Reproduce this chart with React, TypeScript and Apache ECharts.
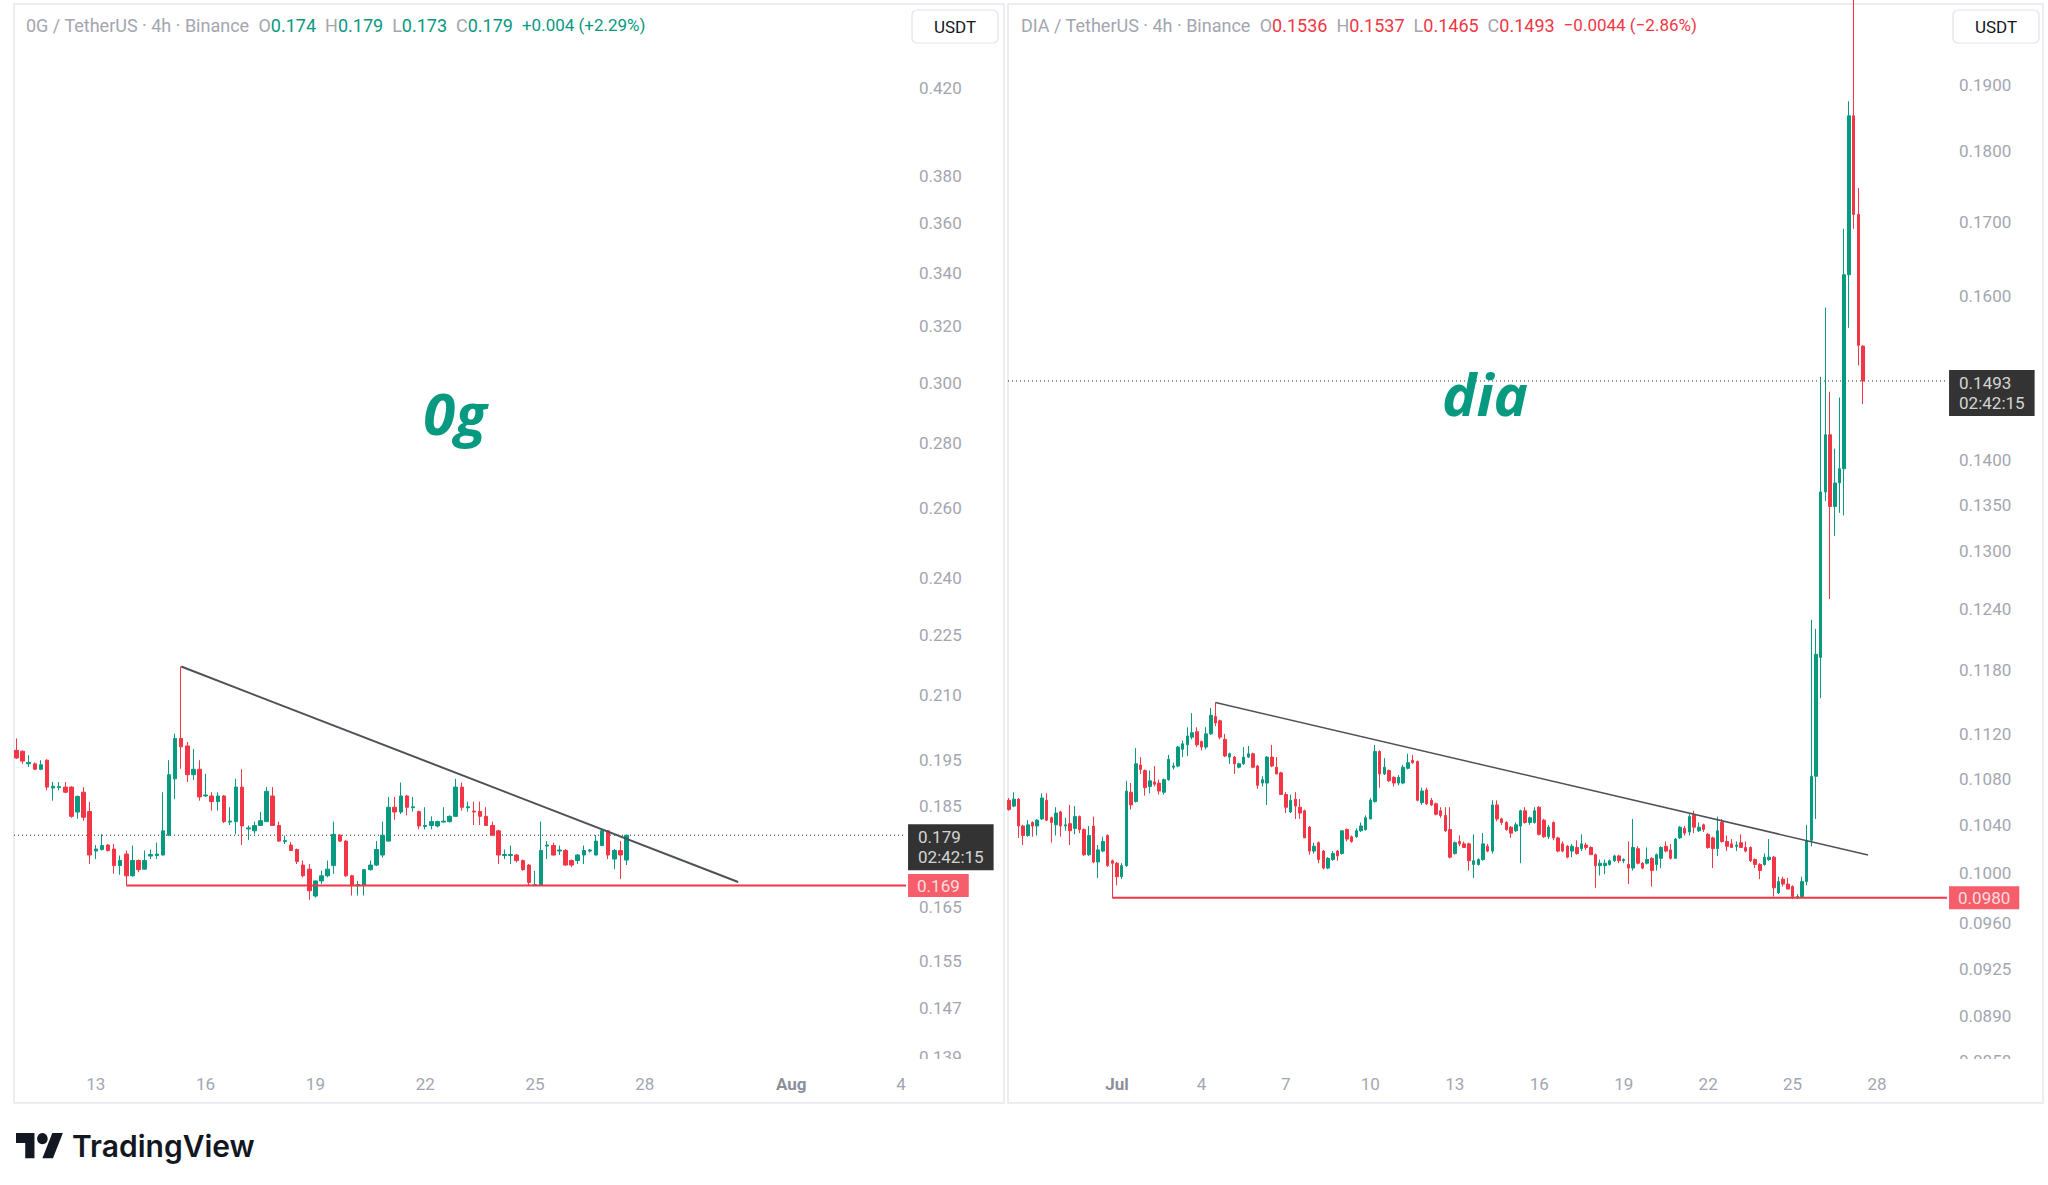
import React, { useEffect, useRef } from "react";
import * as echarts from "echarts";

const GREEN = "#089981";
const RED = "#f23645";
const AXIS_TEXT = "#a3a6af";
const HEAD_TEXT = "#a3a6af";
const FONT = "Roboto, 'Noto Sans', sans-serif";

// ---------------- 0G / TetherUS 4h (left) ----------------
const leftFirstDay = 10 + 20 / 24; // July day number of first 4h candle
// [open, close, low, high]
const leftCandles = [
  [0.1972, 0.1955, 0.1953, 0.1999], [0.1970, 0.1948, 0.1942, 0.1972], [0.1942, 0.1945, 0.1935, 0.1961],
  [0.1942, 0.1930, 0.1928, 0.1945], [0.1930, 0.1940, 0.1928, 0.1950], [0.1950, 0.1891, 0.1884, 0.1952],
  [0.1889, 0.1893, 0.1862, 0.1902], [0.1890, 0.1892, 0.1884, 0.1902], [0.1891, 0.1880, 0.1878, 0.1902],
  [0.1891, 0.1829, 0.1826, 0.1893], [0.1838, 0.1871, 0.1824, 0.1873], [0.1880, 0.1827, 0.1820, 0.1891],
  [0.1839, 0.1750, 0.1732, 0.1859], [0.1758, 0.1762, 0.1742, 0.1770], [0.1761, 0.1769, 0.1759, 0.1792],
  [0.1770, 0.1759, 0.1757, 0.1772], [0.1762, 0.1729, 0.1713, 0.1772], [0.1729, 0.1739, 0.1711, 0.1749],
  [0.1752, 0.1709, 0.1690, 0.1759], [0.1709, 0.1739, 0.1707, 0.1769], [0.1739, 0.1721, 0.1716, 0.1741],
  [0.1722, 0.1739, 0.1721, 0.1759], [0.1748, 0.1751, 0.1742, 0.1761], [0.1749, 0.1752, 0.1742, 0.1775],
  [0.1750, 0.1799, 0.1749, 0.1880], [0.1790, 0.1918, 0.1788, 0.1950], [0.1909, 0.1999, 0.1865, 0.2010],
  [0.1999, 0.1980, 0.1931, 0.2170], [0.1982, 0.1918, 0.1902, 0.1991], [0.1918, 0.1930, 0.1906, 0.1975],
  [0.1930, 0.1870, 0.1862, 0.1950], [0.1872, 0.1874, 0.1870, 0.1920], [0.1872, 0.1860, 0.1841, 0.1880],
  [0.1860, 0.1872, 0.1841, 0.1880], [0.1872, 0.1818, 0.1815, 0.1874], [0.1817, 0.1819, 0.1811, 0.1848],
  [0.1818, 0.1891, 0.1792, 0.1909], [0.1891, 0.1809, 0.1770, 0.1930], [0.1803, 0.1805, 0.1780, 0.1810],
  [0.1799, 0.1810, 0.1792, 0.1818], [0.1810, 0.1820, 0.1809, 0.1838], [0.1818, 0.1882, 0.1817, 0.1891],
  [0.1872, 0.1810, 0.1809, 0.1891], [0.1810, 0.1778, 0.1777, 0.1818], [0.1777, 0.1779, 0.1772, 0.1789],
  [0.1770, 0.1759, 0.1758, 0.1776], [0.1761, 0.1737, 0.1732, 0.1763], [0.1730, 0.1709, 0.1706, 0.1739],
  [0.1722, 0.1680, 0.1663, 0.1732], [0.1670, 0.1699, 0.1667, 0.1700], [0.1699, 0.1709, 0.1693, 0.1719],
  [0.1709, 0.1722, 0.1706, 0.1739], [0.1729, 0.1792, 0.1713, 0.1818], [0.1790, 0.1778, 0.1776, 0.1792],
  [0.1778, 0.1709, 0.1707, 0.1780], [0.1709, 0.1690, 0.1671, 0.1711], [0.1690, 0.1692, 0.1671, 0.1699],
  [0.1691, 0.1721, 0.1671, 0.1722], [0.1721, 0.1730, 0.1719, 0.1739], [0.1730, 0.1761, 0.1728, 0.1778],
  [0.1750, 0.1790, 0.1745, 0.1818], [0.1778, 0.1848, 0.1777, 0.1870], [0.1848, 0.1838, 0.1822, 0.1870],
  [0.1838, 0.1872, 0.1834, 0.1901], [0.1872, 0.1848, 0.1831, 0.1874], [0.1847, 0.1849, 0.1839, 0.1870],
  [0.1839, 0.1809, 0.1802, 0.1841], [0.1808, 0.1810, 0.1802, 0.1848], [0.1810, 0.1818, 0.1802, 0.1829],
  [0.1809, 0.1818, 0.1806, 0.1820], [0.1817, 0.1819, 0.1816, 0.1848], [0.1818, 0.1829, 0.1816, 0.1831],
  [0.1829, 0.1891, 0.1828, 0.1909], [0.1891, 0.1848, 0.1841, 0.1901], [0.1847, 0.1849, 0.1839, 0.1860],
  [0.1840, 0.1838, 0.1811, 0.1860], [0.1839, 0.1829, 0.1811, 0.1860], [0.1829, 0.1810, 0.1809, 0.1848],
  [0.1810, 0.1790, 0.1789, 0.1818], [0.1799, 0.1750, 0.1732, 0.1801], [0.1749, 0.1751, 0.1742, 0.1761],
  [0.1749, 0.1751, 0.1732, 0.1769], [0.1750, 0.1739, 0.1735, 0.1752], [0.1739, 0.1721, 0.1719, 0.1741],
  [0.1730, 0.1696, 0.1690, 0.1732], [0.1690, 0.1692, 0.1689, 0.1719], [0.1691, 0.1759, 0.1690, 0.1818],
  [0.1768, 0.1770, 0.1742, 0.1778], [0.1769, 0.1750, 0.1749, 0.1775], [0.1758, 0.1760, 0.1750, 0.1769],
  [0.1759, 0.1730, 0.1729, 0.1762], [0.1739, 0.1730, 0.1726, 0.1741], [0.1739, 0.1750, 0.1732, 0.1752],
  [0.1750, 0.1759, 0.1732, 0.1769], [0.1758, 0.1760, 0.1755, 0.1762], [0.1750, 0.1778, 0.1749, 0.1790],
  [0.1769, 0.1799, 0.1768, 0.1802], [0.1799, 0.1750, 0.1742, 0.1800], [0.1742, 0.1759, 0.1722, 0.1762],
  [0.1759, 0.1750, 0.1703, 0.1778], [0.1740, 0.1790, 0.1730, 0.1790],
];
const leftPriceTicks = [0.42, 0.38, 0.36, 0.34, 0.32, 0.3, 0.28, 0.26, 0.24, 0.225, 0.21, 0.195, 0.185, 0.165, 0.155, 0.147, 0.139];
const leftDayTicks = [13, 16, 19, 22, 25, 28, 32, 35];
const leftDayLabels = ["13", "16", "19", "22", "25", "28", "Aug", "4"];
const leftDayRange = [10.765, 35.137];
const leftPriceRange = [0.13818, 0.4617];
const leftTrendDays = [15.333, 30.55];
const leftTrendPrices = [0.217, 0.1697];
const leftSupportDay = 13.833;
const leftSupport = 0.169;
const leftLast = 0.179;
const countdown = "02:42:15";

// ---------------- DIA / TetherUS 4h (right) ----------------
const rightFirstDay = -3 + 4 / 24;
const rightCandles = [
  [0.1061, 0.1053, 0.1052, 0.1063], [0.1056, 0.1062, 0.1055, 0.1068], [0.1062, 0.1039, 0.1029, 0.1063],
  [0.1039, 0.1031, 0.1023, 0.1040], [0.1031, 0.1040, 0.1030, 0.1044], [0.1042, 0.1039, 0.1030, 0.1043],
  [0.1039, 0.1044, 0.1031, 0.1045], [0.1045, 0.1063, 0.1044, 0.1067], [0.1061, 0.1044, 0.1043, 0.1067],
  [0.1046, 0.1042, 0.1025, 0.1047], [0.1040, 0.1050, 0.1031, 0.1055], [0.1051, 0.1039, 0.1030, 0.1052],
  [0.1039, 0.1040, 0.1035, 0.1046], [0.1041, 0.1035, 0.1023, 0.1057], [0.1037, 0.1047, 0.1032, 0.1056],
  [0.1047, 0.1036, 0.1033, 0.1048], [0.1036, 0.1015, 0.1014, 0.1037], [0.1015, 0.1031, 0.1014, 0.1039],
  [0.1039, 0.1009, 0.1008, 0.1047], [0.1009, 0.1019, 0.0996, 0.1023], [0.1018, 0.1026, 0.1017, 0.1030],
  [0.1031, 0.1006, 0.1005, 0.1032], [0.1010, 0.1008, 0.0980, 0.1011], [0.1008, 0.0997, 0.0990, 0.1009],
  [0.0997, 0.1006, 0.0995, 0.1008], [0.1006, 0.1069, 0.1005, 0.1078], [0.1068, 0.1057, 0.1053, 0.1076],
  [0.1060, 0.1093, 0.1059, 0.1107], [0.1092, 0.1088, 0.1084, 0.1099], [0.1087, 0.1072, 0.1065, 0.1088],
  [0.1073, 0.1078, 0.1067, 0.1087], [0.1077, 0.1075, 0.1073, 0.1091], [0.1076, 0.1069, 0.1066, 0.1079],
  [0.1068, 0.1079, 0.1066, 0.1080], [0.1079, 0.1097, 0.1078, 0.1101], [0.1090, 0.1091, 0.1088, 0.1094],
  [0.1091, 0.1108, 0.1090, 0.1109], [0.1106, 0.1111, 0.1099, 0.1114], [0.1110, 0.1118, 0.1100, 0.1126],
  [0.1117, 0.1121, 0.1115, 0.1139], [0.1122, 0.1110, 0.1108, 0.1126], [0.1113, 0.1108, 0.1105, 0.1114],
  [0.1108, 0.1120, 0.1106, 0.1126], [0.1120, 0.1137, 0.1119, 0.1144], [0.1136, 0.1130, 0.1127, 0.1149],
  [0.1132, 0.1117, 0.1115, 0.1133], [0.1115, 0.1100, 0.1099, 0.1120], [0.1099, 0.1102, 0.1093, 0.1103],
  [0.1099, 0.1093, 0.1084, 0.1100], [0.1090, 0.1093, 0.1089, 0.1094], [0.1093, 0.1099, 0.1092, 0.1108],
  [0.1099, 0.1102, 0.1098, 0.1109], [0.1102, 0.1090, 0.1089, 0.1103], [0.1091, 0.1074, 0.1071, 0.1092],
  [0.1076, 0.1079, 0.1073, 0.1082], [0.1076, 0.1099, 0.1057, 0.1100], [0.1099, 0.1091, 0.1090, 0.1110],
  [0.1090, 0.1084, 0.1084, 0.1099], [0.1085, 0.1066, 0.1066, 0.1086], [0.1066, 0.1055, 0.1050, 0.1068],
  [0.1051, 0.1061, 0.1050, 0.1066], [0.1062, 0.1056, 0.1045, 0.1068], [0.1055, 0.1050, 0.1045, 0.1062],
  [0.1052, 0.1029, 0.1029, 0.1053], [0.1038, 0.1018, 0.1015, 0.1039], [0.1018, 0.1022, 0.1016, 0.1025],
  [0.1025, 0.1011, 0.1008, 0.1026], [0.1018, 0.1004, 0.1003, 0.1019], [0.1004, 0.1012, 0.1003, 0.1013],
  [0.1011, 0.1016, 0.1010, 0.1018], [0.1018, 0.1014, 0.1010, 0.1019], [0.1016, 0.1035, 0.1015, 0.1035],
  [0.1036, 0.1028, 0.1026, 0.1037], [0.1030, 0.1026, 0.1025, 0.1031], [0.1030, 0.1035, 0.1029, 0.1037],
  [0.1035, 0.1039, 0.1034, 0.1042], [0.1036, 0.1046, 0.1035, 0.1048], [0.1045, 0.1061, 0.1045, 0.1063],
  [0.1060, 0.1104, 0.1059, 0.1110], [0.1104, 0.1084, 0.1072, 0.1105], [0.1084, 0.1090, 0.1083, 0.1098],
  [0.1087, 0.1078, 0.1077, 0.1088], [0.1081, 0.1076, 0.1073, 0.1082], [0.1076, 0.1081, 0.1074, 0.1083],
  [0.1076, 0.1090, 0.1075, 0.1092], [0.1089, 0.1094, 0.1088, 0.1102], [0.1096, 0.1094, 0.1093, 0.1101],
  [0.1095, 0.1061, 0.1060, 0.1096], [0.1059, 0.1069, 0.1057, 0.1072], [0.1070, 0.1058, 0.1057, 0.1072],
  [0.1061, 0.1057, 0.1056, 0.1063], [0.1058, 0.1049, 0.1048, 0.1059], [0.1052, 0.1048, 0.1046, 0.1055],
  [0.1048, 0.1035, 0.1034, 0.1055], [0.1036, 0.1013, 0.1012, 0.1055], [0.1016, 0.1025, 0.1015, 0.1026],
  [0.1026, 0.1024, 0.1022, 0.1031], [0.1024, 0.1021, 0.1021, 0.1026], [0.1024, 0.1010, 0.1002, 0.1025],
  [0.1007, 0.1010, 0.0996, 0.1032], [0.1007, 0.1011, 0.1006, 0.1012], [0.1011, 0.1024, 0.1010, 0.1033],
  [0.1022, 0.1018, 0.1017, 0.1024], [0.1018, 0.1057, 0.1016, 0.1061], [0.1057, 0.1045, 0.1043, 0.1061],
  [0.1045, 0.1042, 0.1040, 0.1046], [0.1042, 0.1036, 0.1035, 0.1043], [0.1038, 0.1033, 0.1029, 0.1039],
  [0.1035, 0.1040, 0.1034, 0.1042], [0.1039, 0.1052, 0.1008, 0.1053], [0.1052, 0.1042, 0.1041, 0.1055],
  [0.1042, 0.1046, 0.1040, 0.1047], [0.1042, 0.1052, 0.1041, 0.1055], [0.1055, 0.1032, 0.1031, 0.1056],
  [0.1044, 0.1030, 0.1029, 0.1045], [0.1030, 0.1038, 0.1028, 0.1040], [0.1042, 0.1029, 0.1027, 0.1043],
  [0.1029, 0.1018, 0.1017, 0.1030], [0.1024, 0.1018, 0.1017, 0.1026], [0.1022, 0.1013, 0.1012, 0.1023],
  [0.1018, 0.1022, 0.1013, 0.1024], [0.1021, 0.1016, 0.1015, 0.1027], [0.1020, 0.1024, 0.1018, 0.1032],
  [0.1023, 0.1021, 0.1019, 0.1025], [0.1021, 0.1015, 0.1015, 0.1022], [0.1015, 0.1006, 0.0988, 0.1016],
  [0.1006, 0.1008, 0.0998, 0.1011], [0.1006, 0.1008, 0.0999, 0.1011], [0.1007, 0.1010, 0.1006, 0.1011],
  [0.1010, 0.1014, 0.1009, 0.1015], [0.1014, 0.1010, 0.1008, 0.1015], [0.1010, 0.1011, 0.1008, 0.1012],
  [0.1007, 0.1004, 0.0991, 0.1026], [0.1004, 0.1021, 0.1002, 0.1045], [0.1020, 0.1008, 0.1007, 0.1022],
  [0.1008, 0.1004, 0.1003, 0.1009], [0.1008, 0.1011, 0.1007, 0.1021], [0.1012, 0.1002, 0.0989, 0.1013],
  [0.1007, 0.1015, 0.1002, 0.1016], [0.1012, 0.1021, 0.1004, 0.1022], [0.1022, 0.1018, 0.1017, 0.1026],
  [0.1019, 0.1012, 0.1011, 0.1024], [0.1012, 0.1028, 0.1012, 0.1029], [0.1029, 0.1038, 0.1028, 0.1039],
  [0.1037, 0.1033, 0.1031, 0.1039], [0.1034, 0.1047, 0.1031, 0.1049], [0.1048, 0.1038, 0.1033, 0.1052],
  [0.1035, 0.1038, 0.1034, 0.1042], [0.1040, 0.1036, 0.1034, 0.1041], [0.1032, 0.1021, 0.1020, 0.1033],
  [0.1029, 0.1020, 0.1004, 0.1030], [0.1020, 0.1035, 0.1014, 0.1047], [0.1042, 0.1026, 0.1025, 0.1045],
  [0.1026, 0.1022, 0.1018, 0.1031], [0.1024, 0.1021, 0.1021, 0.1028], [0.1022, 0.1023, 0.1018, 0.1026],
  [0.1025, 0.1021, 0.1021, 0.1032], [0.1021, 0.1018, 0.1017, 0.1026], [0.1021, 0.1010, 0.1009, 0.1022],
  [0.1011, 0.1007, 0.1004, 0.1012], [0.1007, 0.1002, 0.0995, 0.1008], [0.1007, 0.1013, 0.1006, 0.1016],
  [0.1011, 0.1013, 0.1010, 0.1028], [0.1013, 0.0988, 0.0981, 0.1014], [0.0984, 0.0993, 0.0983, 0.0997],
  [0.0995, 0.0991, 0.0989, 0.0997], [0.0991, 0.0987, 0.0987, 0.0996], [0.0989, 0.0981, 0.0979, 0.0990],
  [0.0980, 0.0981, 0.0979, 0.0983], [0.0981, 0.0993, 0.0980, 0.0997], [0.0993, 0.1027, 0.0990, 0.1040],
  [0.1027, 0.1082, 0.1022, 0.1229], [0.1082, 0.1195, 0.1045, 0.1220], [0.1192, 0.1364, 0.1153, 0.1498],
  [0.1364, 0.1429, 0.1354, 0.1585], [0.1429, 0.1348, 0.1250, 0.1480], [0.1348, 0.1374, 0.1316, 0.1413],
  [0.1374, 0.1390, 0.1341, 0.1473], [0.1390, 0.1628, 0.1338, 0.1690], [0.1628, 0.1853, 0.1559, 0.1875],
  [0.1853, 0.1710, 0.1690, 0.2100], [0.1710, 0.1537, 0.1512, 0.1747], [0.1536, 0.1493, 0.1465, 0.1537],
];
const rightPriceTicks = [0.19, 0.18, 0.17, 0.16, 0.14, 0.135, 0.13, 0.124, 0.118, 0.112, 0.108, 0.104, 0.1, 0.096, 0.0925, 0.089, 0.0858];
const rightDayTicks = [1, 4, 7, 10, 13, 16, 19, 22, 25, 28];
const rightDayLabels = ["Jul", "4", "7", "10", "13", "16", "19", "22", "25", "28"];
const rightDayRange = [-2.872, 30.485];
const rightPriceRange = [0.08573, 0.2028];
const rightTrendDays = [4.5, 27.68];
const rightTrendPrices = [0.1149, 0.10148];
const rightSupportDay = 0.833;
const rightSupport = 0.098;
const rightLast = 0.1493;

const CANDLES_PER_DAY = 6;

function dayLabel(ticks: number[], labels: string[]) {
  return (v: number) => {
    let best = -1;
    ticks.forEach((t, i) => {
      if (Math.abs(t - v) < 1e-6) best = i;
    });
    if (best < 0) return "";
    const t = labels[best];
    return /^\d+$/.test(t) ? t : `{m|${t}}`;
  };
}

function buildPanel(idx: number, cfg: any) {
  const candleData = cfg.candles.map((c: number[], i: number) => [
    cfg.firstDay + i / CANDLES_PER_DAY, c[0], c[1], c[2], c[3],
  ]);
  const xAxis = {
    type: "value",
    gridIndex: idx,
    min: cfg.dayRange[0],
    max: cfg.dayRange[1],
    axisLine: { show: false },
    axisTick: { show: false },
    splitLine: { show: false },
    axisLabel: {
      customValues: cfg.dayTicks,
      formatter: dayLabel(cfg.dayTicks, cfg.dayLabels),
      color: AXIS_TEXT,
      fontSize: 17,
      fontFamily: FONT,
      margin: 13,
      rich: { m: { fontWeight: "bold", color: "#8c8f98", fontSize: 17, fontFamily: FONT } },
    },
  };
  const yAxis = {
    type: "log",
    logBase: 10,
    gridIndex: idx,
    position: "right",
    min: cfg.priceRange[0],
    max: cfg.priceRange[1],
    axisLine: { show: false },
    axisTick: { show: false },
    splitLine: { show: false },
    axisLabel: {
      customValues: cfg.priceTicks,
      formatter: (v: number) => v.toFixed(cfg.decimals),
      color: AXIS_TEXT,
      fontSize: 17,
      fontFamily: FONT,
      margin: cfg.labelMargin,
    },
  };
  const series = [
    {
      type: "line",
      xAxisIndex: idx,
      yAxisIndex: idx,
      data: [[cfg.dayRange[0], cfg.last], [cfg.dayRange[1], cfg.last]],
      symbol: "none",
      silent: true,
      lineStyle: { color: "#2a2e39", width: 1, type: [1, 3] },
      z: 1,
    },
    {
      type: "candlestick",
      xAxisIndex: idx,
      yAxisIndex: idx,
      data: candleData,
      barWidth: cfg.barWidth,
      clip: true,
      itemStyle: { color: GREEN, color0: RED, borderColor: GREEN, borderColor0: RED, borderWidth: 1 },
      z: 2,
    },
    {
      type: "line",
      xAxisIndex: idx,
      yAxisIndex: idx,
      data: [[cfg.supportDay, cfg.support], [cfg.dayRange[1], cfg.support]],
      symbol: "none",
      silent: true,
      lineStyle: { color: RED, width: 2 },
      z: 3,
    },
    {
      type: "line",
      xAxisIndex: idx,
      yAxisIndex: idx,
      data: cfg.trendDays.map((d: number, i: number) => [d, cfg.trendPrices[i]]),
      symbol: "none",
      silent: true,
      lineStyle: { color: "#4f5159", width: cfg.trendWidth },
      z: 4,
    },
    {
      type: "scatter",
      xAxisIndex: idx,
      yAxisIndex: idx,
      data: [[cfg.dayRange[1], cfg.support]],
      symbolSize: 0.1,
      itemStyle: { color: "transparent" },
      clip: false,
      silent: true,
      z: 10,
      label: {
        show: true,
        position: "right",
        distance: 2,
        formatter: cfg.support.toFixed(cfg.decimals),
        backgroundColor: RED,
        color: "#ffffff",
        padding: [3, 9, 2, 9],
        fontSize: 17,
        lineHeight: 18,
        fontFamily: FONT,
      },
    },
    {
      type: "scatter",
      xAxisIndex: idx,
      yAxisIndex: idx,
      data: [[cfg.dayRange[1], cfg.last]],
      symbolSize: 0.1,
      itemStyle: { color: "transparent" },
      clip: false,
      silent: true,
      z: 10,
      label: {
        show: true,
        position: "right",
        distance: 2,
        offset: [0, 12],
        formatter: cfg.last.toFixed(cfg.decimals) + "\n" + countdown,
        backgroundColor: "#000000",
        color: "#ffffff",
        padding: [3, 10, 3, 10],
        fontSize: 17,
        lineHeight: 20,
        fontFamily: FONT,
      },
    },
  ];
  return { xAxis, yAxis, series };
}

const leftPanel = buildPanel(0, {
  candles: leftCandles, firstDay: leftFirstDay, dayRange: leftDayRange, priceRange: leftPriceRange,
  dayTicks: leftDayTicks, dayLabels: leftDayLabels, priceTicks: leftPriceTicks, decimals: 3,
  trendDays: leftTrendDays, trendPrices: leftTrendPrices, supportDay: leftSupportDay, support: leftSupport,
  last: leftLast, barWidth: 4, trendWidth: 2, labelMargin: 13,
});
const rightPanel = buildPanel(1, {
  candles: rightCandles, firstDay: rightFirstDay, dayRange: rightDayRange, priceRange: rightPriceRange,
  dayTicks: rightDayTicks, dayLabels: rightDayLabels, priceTicks: rightPriceTicks, decimals: 4,
  trendDays: rightTrendDays, trendPrices: rightTrendPrices, supportDay: rightSupportDay, support: rightSupport,
  last: rightLast, barWidth: 3, trendWidth: 1.5, labelMargin: 12,
});

function header(x: number, title: string, vals: string[], change: string, color: string) {
  const parts = [`{g|${title}}{sp| }`];
  ["O", "H", "L", "C"].forEach((k, i) => parts.push(`{g|${k}}{v|${vals[i]}}{sp| }`));
  parts.push(`{c|${change}}`);
  return {
    type: "text",
    x,
    y: 25,
    z: 20,
    style: {
      text: parts.join(""),
      fontSize: 18,
      fontFamily: FONT,
      verticalAlign: "middle",
      fill: HEAD_TEXT,
      rich: {
        g: { fill: HEAD_TEXT, fontSize: 18, fontFamily: FONT },
        v: { fill: color, fontSize: 18, fontFamily: FONT },
        c: { fill: color, fontSize: 17, fontFamily: FONT },
        sp: { width: 9, fontSize: 18, fontFamily: FONT },
      },
    },
  };
}

function usdt(x: number) {
  return {
    type: "group",
    x,
    y: 10,
    z: 20,
    children: [
      { type: "rect", shape: { x: 0, y: 0, width: 86, height: 33, r: 5 }, style: { fill: "#ffffff", stroke: "#e0e3eb", lineWidth: 1.2 } },
      { type: "text", style: { text: "USDT", x: 43, y: 17, align: "center", verticalAlign: "middle", fontSize: 17, fontFamily: FONT, fill: "#131722" } },
    ],
  };
}

export default function App() {
  const ref = useRef<HTMLDivElement>(null);
  useEffect(() => {
    if (!ref.current) return;
    const chart = echarts.init(ref.current, undefined, { renderer: "svg" });
    const option: any = {
      animation: false,
      backgroundColor: "#ffffff",
      textStyle: { fontFamily: FONT },
      grid: [
        { left: 14, top: 5, width: 892, height: 1057, outerBoundsMode: "none" },
        { left: 1008, top: 5, width: 939, height: 1057, outerBoundsMode: "none" },
      ],
      xAxis: [leftPanel.xAxis, rightPanel.xAxis],
      yAxis: [leftPanel.yAxis, rightPanel.yAxis],
      series: [...leftPanel.series, ...rightPanel.series],
      graphic: [
        { type: "rect", z: 0, silent: true, shape: { x: 14, y: 4, width: 990, height: 1099 }, style: { fill: "none", stroke: "#e6e8ee", lineWidth: 1.5 } },
        { type: "rect", z: 0, silent: true, shape: { x: 1008, y: 4, width: 1035, height: 1099 }, style: { fill: "none", stroke: "#e6e8ee", lineWidth: 1.5 } },
        { type: "rect", z: 100, silent: true, shape: { x: 908, y: 1059, width: 94, height: 38 }, style: { fill: "#ffffff" } },
        { type: "rect", z: 100, silent: true, shape: { x: 1949, y: 1059, width: 92, height: 38 }, style: { fill: "#ffffff" } },
        header(26, "0G / TetherUS · 4h · Binance", ["0.174", "0.179", "0.173", "0.179"], "+0.004 (+2.29%)", GREEN),
        header(1021, "DIA / TetherUS · 4h · Binance", ["0.1536", "0.1537", "0.1465", "0.1493"], "\u22120.0044 (\u22122.86%)", RED),
        usdt(912),
        usdt(1953),
        {
          type: "text", z: 20, silent: true,
          style: { text: "0g", x: 455, y: 412, align: "center", verticalAlign: "middle", fontSize: 58, fontWeight: "bold", fontStyle: "italic", fontFamily: "'Open Sans', 'Noto Sans', sans-serif", fill: GREEN },
        },
        {
          type: "text", z: 20, silent: true,
          style: { text: "dia", x: 1485, y: 393, align: "center", verticalAlign: "middle", fontSize: 58, fontWeight: "bold", fontStyle: "italic", fontFamily: "'Open Sans', 'Noto Sans', sans-serif", fill: GREEN },
        },
        {
          type: "group", x: 16, y: 1127.5, scaleX: 1.32, scaleY: 1.4, z: 20, silent: true,
          children: [
            { type: "polygon", shape: { points: [[0, 4], [14, 4], [14, 22], [7, 22], [7, 11], [0, 11]] }, style: { fill: "#131722" } },
            { type: "circle", shape: { cx: 20, cy: 8, r: 4 }, style: { fill: "#131722" } },
            { type: "polygon", shape: { points: [[20, 22], [27.5, 4], [35.5, 4], [28, 22]] }, style: { fill: "#131722" } },
          ],
        },
        {
          type: "text", z: 20, silent: true,
          style: { text: "TradingView", x: 72, y: 1146, verticalAlign: "middle", fontSize: 30, fontWeight: 600, fontFamily: "Inter, Roboto, sans-serif", fill: "#131722" },
        },
      ],
    };
    chart.setOption(option);
    return () => chart.dispose();
  }, []);
  return (
    <div
      ref={ref}
      style={{ position: "absolute", left: 0, top: 0, width: 2048, height: 1185, background: "#ffffff" }}
    />
  );
}
